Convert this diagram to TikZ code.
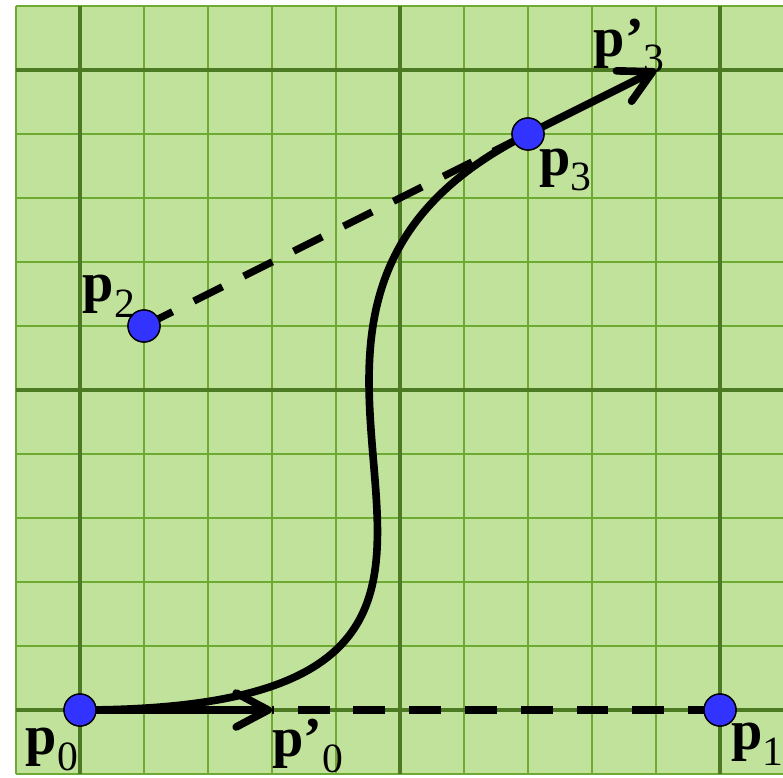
\documentclass[tikz,border=0pt]{standalone}
\usepackage{fontspec}
\setmainfont{Liberation Serif}
\usepackage{tikz}
\usetikzlibrary{arrows.meta}
\definecolor{gridbg}{RGB}{193,226,155}
\definecolor{gridthin}{RGB}{110,170,50}
\definecolor{gridthick}{RGB}{75,122,34}
\definecolor{ptblue}{RGB}{51,51,255}
\newcommand{\ptname}[2]{\textbf{p#1}\raisebox{-0.28em}{\fontsize{18.5}{18.5}\selectfont #2}}

\begin{document}
\begin{tikzpicture}[x=1cm,y=1cm,font=\fontsize{25}{25}\selectfont,
  pt/.style={circle,draw=black,line width=0.6pt,fill=ptblue,minimum size=0.5cm,inner sep=0pt},
  vec/.style={line width=3.4pt,-{Straight Barb[length=5mm,width=5.3mm,round]}},
  helper/.style={line width=3.2pt,dash pattern=on 14.2pt off 10.6pt},
  curve/.style={line width=3.4pt},
  lbl/.style={inner sep=0pt}]
  \useasboundingbox (-1.25,-1.047) rectangle (10.984,11.094);
  % grid
  \fill[gridbg] (-1,-1) rectangle (11,11);
  \foreach \t in {-1,...,11} {
    \draw[gridthin,line width=0.7pt] (\t,-1) -- (\t,11);
    \draw[gridthin,line width=0.7pt] (-1,\t) -- (11,\t);
  }
  \foreach \t in {0,5,10} {
    \draw[gridthick,line width=1.7pt] (\t,-1) -- (\t,11);
    \draw[gridthick,line width=1.7pt] (-1,\t) -- (11,\t);
  }
  % points and tangents
  \node[pt] (p0) at (0,0) {};
  \node[pt] (p1) at (10,0) {};
  \node[pt] (p2) at (1,6) {};
  \node[pt] (p3) at (7,9) {};
  \coordinate (d0) at (3,0);
  \coordinate (d3) at (9,10);
  \coordinate (c1) at (9,0);
  \draw[helper] (p1.center) -- (d0);
  \draw[helper] (p2.center) -- (p3.center);
  \draw[curve] (p0.center) .. controls (c1) and (p2.center) .. (p3.center);
  \draw[vec] (p0.center) -- (d0);
  \draw[vec] (p3.center) -- (d3);
  % redraw the dots on top
  \foreach \n in {p0,p1,p2,p3} \node[pt] at (\n) {};
  % labels
  \node[lbl] (l0) at (-0.44,-0.62) {\ptname{}{0}};
  \node[lbl] (l1) at (10.58,-0.53) {\ptname{}{1}};
  \node[lbl] (l2) at (0.45,6.47) {\ptname{}{2}};
  \node[lbl] (l3) at (7.58,8.44) {\ptname{}{3}};
  \node[lbl] (ld0) at (3.56,-0.56) {\ptname{’}{0}};
  \node[lbl] (ld3) at (8.58,10.38) {\ptname{’}{3}};
\end{tikzpicture}
\end{document}
